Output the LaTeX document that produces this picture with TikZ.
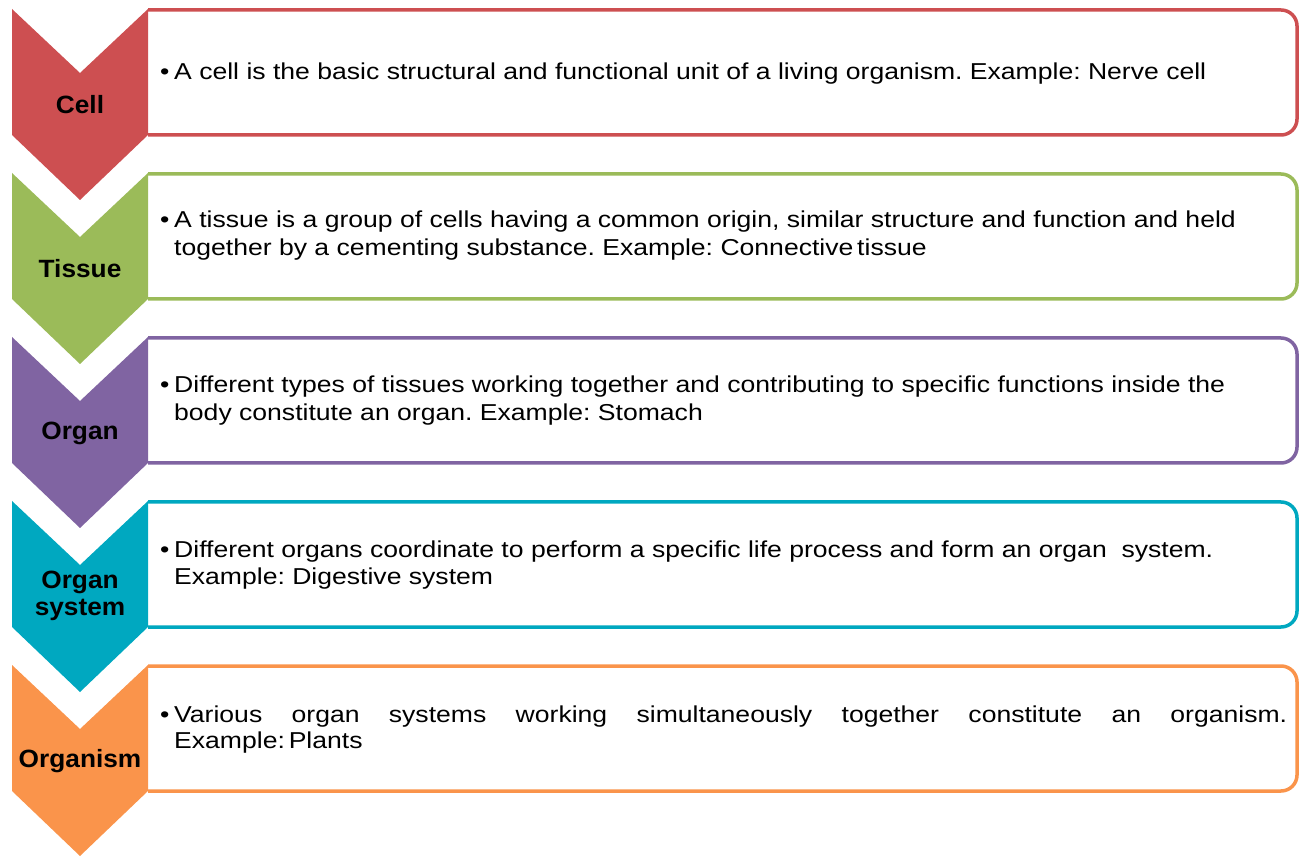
\documentclass[tikz,border=0pt]{standalone}
\usepackage{fontspec}
\setmainfont{Liberation Sans}
\newfontfamily\bodyfont[FakeStretch=1.155]{Liberation Sans}
\newfontfamily\stagefont[FakeStretch=1.05]{Liberation Sans}
\usetikzlibrary{positioning}
\frenchspacing

\definecolor{cellred}{RGB}{205,79,81}
\definecolor{tissuegreen}{RGB}{155,187,89}
\definecolor{organpurple}{RGB}{128,100,162}
\definecolor{systemteal}{RGB}{0,168,192}
\definecolor{organismorange}{RGB}{250,148,75}

\newcommand{\bul}{\makebox[14pt][l]{\textbullet}}
\newcommand{\ind}{\hspace*{14pt}}

\begin{document}
\begin{tikzpicture}[x=1pt, y=1pt]
    \tikzset{stage/.style={font=\stagefont\fontsize{25}{27}\selectfont\bfseries, align=center, inner sep=0pt}}
    \tikzset{info/.style={font=\bodyfont\fontsize{23}{28}\selectfont, align=left, anchor=base west, inner sep=0pt}}
    \tikzset{frame/.style={line width=3.5pt, fill=white}}
    \useasboundingbox (0,0) rectangle (1300,857);

    % Cell
    \draw [frame, draw=cellred] (148,847) -- (1281,847) arc[start angle=90, end angle=0, radius=16]
      -- (1297,738) arc[start angle=0, end angle=-90, radius=16] -- (148,722);
    \fill [cellred] (12,848) -- (80,784) -- (148,848) -- (148,722) -- (80,657) -- (12,722) -- cycle;
    \node [stage] (cell) at (80,752) {Cell};
    \node [info] (celltext) at (160,777) {\bul A cell is the basic structural and functional unit of a living organism. Example: Nerve cell};

    % Tissue
    \draw [frame, draw=tissuegreen] (148,683) -- (1281,683) arc[start angle=90, end angle=0, radius=16]
      -- (1297,574) arc[start angle=0, end angle=-90, radius=16] -- (148,558);
    \fill [tissuegreen] (12,684) -- (80,620) -- (148,684) -- (148,558) -- (80,493) -- (12,558) -- cycle;
    \node [stage] (tissue) at (80,588) {Tissue};
    \node [info] (tissuetext) at (160,601) {\bul A tissue is a group of cells having a common origin, similar structure and function and held\\
      \ind together by a cementing substance. Example: Connective\,tissue};

    % Organ
    \draw [frame, draw=organpurple] (148,519) -- (1281,519) arc[start angle=90, end angle=0, radius=16]
      -- (1297,410) arc[start angle=0, end angle=-90, radius=16] -- (148,394);
    \fill [organpurple] (12,520) -- (80,456) -- (148,520) -- (148,394) -- (80,329) -- (12,394) -- cycle;
    \node [stage] (organ) at (80,424) {Organ};
    \node [info] (organtext) at (160,436) {\bul Different types of tissues working together and contributing to specific functions inside the\\
      \ind body constitute an organ. Example: Stomach};

    % Organ system
    \draw [frame, draw=systemteal] (148,355) -- (1281,355) arc[start angle=90, end angle=0, radius=16]
      -- (1297,246) arc[start angle=0, end angle=-90, radius=16] -- (148,230);
    \fill [systemteal] (12,356) -- (80,292) -- (148,356) -- (148,230) -- (80,165) -- (12,230) -- cycle;
    \node [stage] (organsys) at (80,261) {Organ\\system};
    \node [info] (organsystext) at (160,272) {\bul Different organs coordinate to perform a specific life process and form an organ\ \ system.\\
      \ind Example: Digestive system};

    % Organism
    \draw [frame, draw=organismorange] (148,191) -- (1281,191) arc[start angle=90, end angle=0, radius=16]
      -- (1297,82) arc[start angle=0, end angle=-90, radius=16] -- (148,66);
    \fill [organismorange] (12,192) -- (80,128) -- (148,192) -- (148,66) -- (80,1) -- (12,66) -- cycle;
    \node [stage] (organism) at (80,96) {Organism};
    \node [info, font=\bodyfont\fontsize{23}{26}\selectfont] (organismtext) at (160,109) {\bul\makebox[1113pt][s]{Various organ systems working simultaneously together constitute an organism.}\\
      \ind Example:\,Plants};
\end{tikzpicture}
\end{document}
